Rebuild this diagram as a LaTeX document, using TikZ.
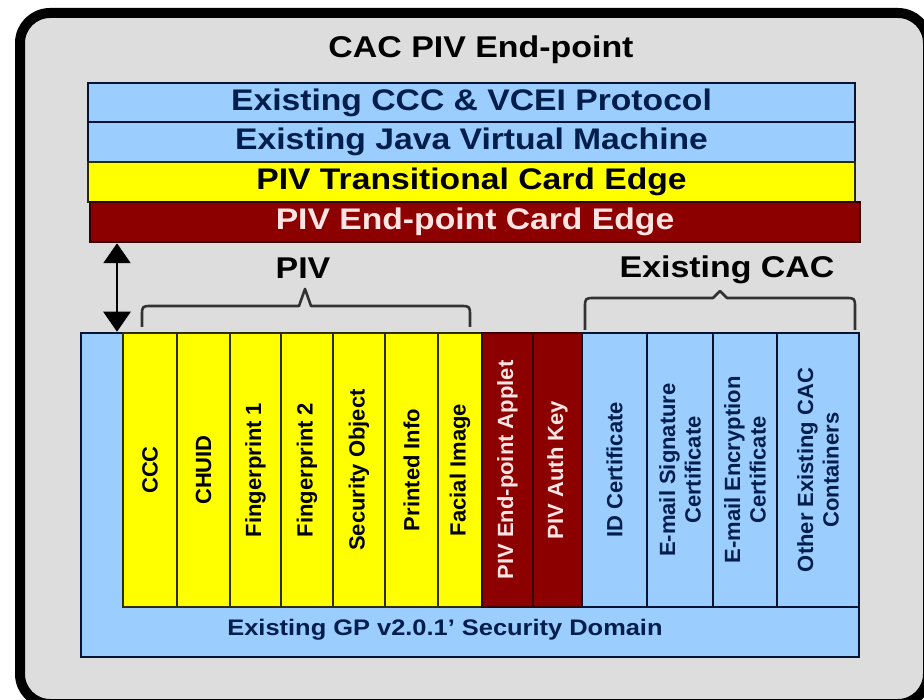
\documentclass[tikz,border=0pt]{standalone}
\usepackage{fontspec}
\setmainfont{Liberation Sans}[FakeStretch=1.13]
\newfontfamily\rotfont{Liberation Sans}
\usetikzlibrary{arrows.meta}
\definecolor{bggray}{RGB}{221,221,221}
\definecolor{lblue}{RGB}{155,205,255}
\definecolor{navyline}{RGB}{5,20,50}
\definecolor{navytext}{RGB}{0,30,75}
\definecolor{cyel}{RGB}{255,255,0}
\definecolor{oliveline}{RGB}{45,45,0}
\definecolor{dred}{RGB}{140,0,0}
\definecolor{redline}{RGB}{55,0,0}
\definecolor{pinktext}{RGB}{255,228,228}
\definecolor{bracegray}{RGB}{50,50,50}
\begin{document}
\begin{tikzpicture}[x=1pt,y=-1pt,
  bigtext/.style={font=\fontsize{30}{36}\selectfont\bfseries, inner sep=0},
  bar/.style={line width=2.5pt, minimum width=767pt, minimum height=40pt, inner sep=0,
    font=\fontsize{29.8}{34}\selectfont\bfseries},
  col/.style={rotate=90, line width=2.5pt, minimum width=274pt, inner sep=0, align=center,
    font=\rotfont\fontsize{22}{25.5}\selectfont\bfseries},
  ycol/.style={col, fill=cyel, draw=oliveline, text=black},
  rcol/.style={col, fill=dred, draw=redline, text=pinktext},
  bcol/.style={col, fill=lblue, draw=navyline, text=navytext},
  bracepath/.style={draw=bracegray, line width=2.6pt, line join=round}]
\useasboundingbox (0,0) rectangle (924,700);
\fill[white] (0,0) rectangle (924,700);
\draw[line width=10pt, rounded corners=30pt, fill=bggray] (20,13) rectangle (928,704);

\node[bigtext] (title) at (481,50) {CAC PIV End-point};

\node[bar, fill=lblue, draw=navyline, text=navytext, minimum height=39pt] (proto) at (471.5,102.5) {Existing CCC \& VCEI Protocol};
\node[bar, fill=lblue, draw=navyline, text=navytext] (jvm) at (471.5,142) {Existing Java Virtual Machine};
\node[bar, fill=cyel, draw=oliveline, text=black] (trans) at (471.5,182) {PIV Transitional Card Edge};
\node[bar, fill=dred, draw=redline, text=pinktext, minimum width=770pt] (edge) at (475,222) {PIV End-point Card Edge};

% lower block
\node[draw=navyline, fill=lblue, line width=2.5pt, minimum width=778pt, minimum height=324pt, inner sep=0] (gp) at (470,495) {};
\node[font=\fontsize{22.5}{26}\selectfont\bfseries, text=navytext, inner sep=0] (gptext) at (445,630) {Existing GP v2.0.1' Security Domain};

\node[ycol, minimum height=54pt] (c1) at (150,470) {CCC};
\node[ycol, minimum height=53pt] (c2) at (203.5,470) {CHUID};
\node[ycol, minimum height=51pt] (c3) at (255.5,470) {Fingerprint 1};
\node[ycol, minimum height=52pt] (c4) at (307,470) {Fingerprint 2};
\node[ycol, minimum height=52pt] (c5) at (359,470) {Security Object};
\node[ycol, minimum height=53pt] (c6) at (411.5,470) {Printed Info};
\node[ycol, minimum height=44pt] (c7) at (460,470) {Facial Image};
\node[rcol, minimum height=51pt] (c8) at (507.5,470) {PIV End-point Applet};
\node[rcol, minimum height=49pt] (c9) at (557.5,470) {PIV Auth Key};
\node[bcol, minimum height=65pt] (c10) at (614.5,470) {ID Certificate};
\node[bcol, minimum height=66pt] (c11) at (680,470) {E-mail Signature\\Certificate};
\node[bcol, minimum height=64pt] (c12) at (745,470) {E-mail Encryption\\Certificate};
\node[bcol, minimum height=82pt] (c13) at (818,470) {Other Existing CAC\\Containers};

% arrow
\coordinate (ax) at (117,0);
\draw[line width=2.6pt, {Triangle[width=27pt,length=20pt]}-{Triangle[width=27pt,length=20pt]}]
  (edge.south -| ax) -- (gp.north -| ax);

% PIV brace
\draw[bracepath] (142,327) -- (142,316) .. controls (142,306) .. (152,306)
  -- (299,306) -- (305,289) -- (311,306) -- (460,306) .. controls (470,306) .. (470,316) -- (470,327);
\node[bigtext] (pivlabel) at (303,268) {PIV};

% Existing CAC brace
\draw[bracepath] (585,330) -- (585,308) .. controls (585,298) .. (595,298)
  -- (713,298) -- (720,291) -- (727,298) -- (845,298) .. controls (855,298) .. (855,308) -- (855,330);
\node[bigtext] (caclabel) at (727,270) {Existing CAC};
\end{tikzpicture}
\end{document}
